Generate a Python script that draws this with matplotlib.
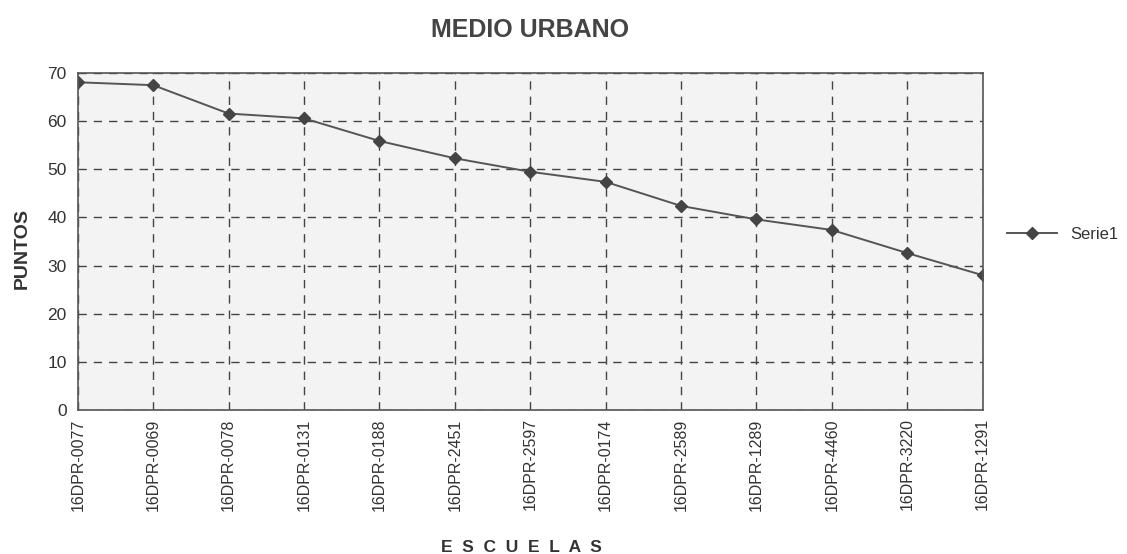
import matplotlib
matplotlib.use("Agg")
import matplotlib.pyplot as plt
import numpy as np

escuelas = ["16DPR-0077", "16DPR-0069", "16DPR-0078", "16DPR-0131", "16DPR-0188",
            "16DPR-2451", "16DPR-2597", "16DPR-0174", "16DPR-2589", "16DPR-1289",
            "16DPR-4460", "16DPR-3220", "16DPR-1291"]
puntos = [68.1, 67.5, 61.6, 60.6, 55.9, 52.3, 49.5, 47.4, 42.4, 39.6, 37.4, 32.6, 28.0]

plt.rcParams['font.family'] = ['Liberation Sans', 'DejaVu Sans']

fig = plt.figure(figsize=(11.27, 5.54), dpi=100)
ax = fig.add_axes([0.069, 0.26, 0.803, 0.608])
ax.set_facecolor('#f3f3f3')

x = np.arange(len(escuelas))
ax.plot(x, puntos, color='#555555', lw=1.4, marker='D', ms=6,
        mfc='#444444', mec='#444444', label='Serie1')

ax.set_xlim(0, len(escuelas) - 1)
ax.set_ylim(0, 70)
ax.set_yticks(range(0, 71, 10))
ax.set_xticks(x)
ax.set_xticklabels(escuelas, rotation=90, fontsize=11.5, color='#333333')
ax.tick_params(axis='y', labelsize=12.5, labelcolor='#333333', length=0, pad=8)
ax.tick_params(axis='x', length=0, pad=6)

ax.grid(True, ls=(0, (6, 5)), color='#444444', lw=1.0)
for s in ax.spines.values():
    s.set_color('#555555')
    s.set_linewidth(1.2)

ax.set_title('MEDIO URBANO', fontsize=18, fontweight='bold', color='#444444', pad=26)
ax.set_ylabel('PUNTOS', fontsize=14, fontweight='bold', color='#333333', labelpad=8)
ax.yaxis.set_label_coords(-0.052, 0.48)
ax.set_xlabel('E  S  C  U  E  L  A  S', fontsize=12.5, fontweight='bold', color='#333333')
ax.xaxis.set_label_coords(0.49, -0.385)

leg = ax.legend(loc='center left', bbox_to_anchor=(1.01, 0.52), frameon=False,
                fontsize=12, handlelength=3, labelcolor='#333333')

fig.savefig('out.png', dpi=100)
